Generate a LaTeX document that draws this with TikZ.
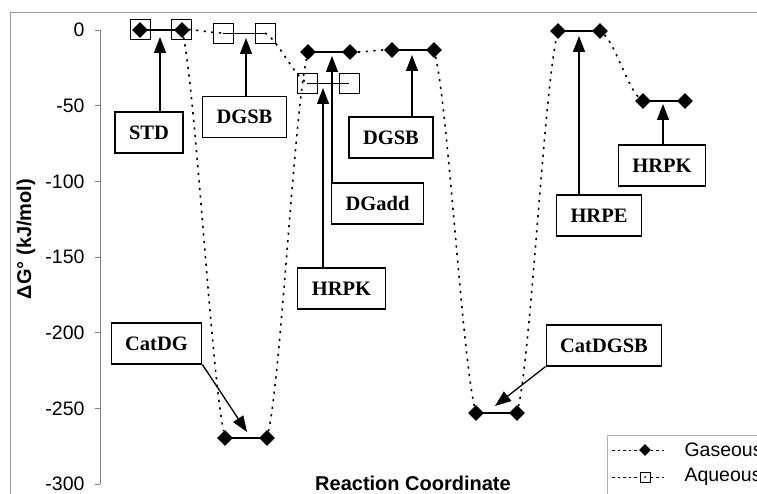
\documentclass[tikz,border=0pt]{standalone}
\usepackage{fontspec}
\setmainfont{Liberation Serif}
\setsansfont{Liberation Sans}
\usetikzlibrary{shapes.geometric,arrows.meta}

\tikzset{%
  % Specifications for style of nodes:
         lbl/.style = {rectangle, draw=black, line width=1.2pt, minimum height=41pt, inner xsep=14pt, fill=white, font=\fontsize{20.5}{24}\selectfont\rmfamily\bfseries},
         gas/.style = {diamond, fill=black, inner sep=0pt, minimum size=16pt},
          aq/.style = {rectangle, draw=black, line width=0.8pt, inner sep=0pt, minimum size=20pt},
        dots/.style = {line width=1.6pt, dash pattern=on 2.2pt off 5.4pt},
     callout/.style = {line width=1.3pt, -{Triangle[width=12pt,length=16pt]}},
       ticks/.style = {font=\fontsize{19.5}{22}\selectfont\sffamily, anchor=east},
}

\begin{document}
\begin{tikzpicture}[x=1pt, y=-1pt, every node/.style={font=\fontsize{19.5}{22}\selectfont\sffamily}]
    \useasboundingbox (0,0) rectangle (757,494);
    \clip (0,0) rectangle (757,494);

    % Frame and axis
    \draw[gray!80, line width=0.8pt] (10,12) rectangle (800,560);
    \draw[gray, line width=0.8pt] (100,30) -- (100,484);
    \foreach \v in {0,-50,...,-300}{
        \draw[gray, line width=0.8pt] (95,{30-1.5133*\v}) -- (100,{30-1.5133*\v});
        \node[ticks] at (88,{30-1.5133*\v}) {\v};
    }
    \node[rotate=90, font=\fontsize{20}{22}\selectfont\sffamily\bfseries] (ylab) at (26,239) {ΔG° (kJ/mol)};
    \node[font=\fontsize{20}{22}\selectfont\sffamily\bfseries] (xlab) at (413,483) {Reaction Coordinate};

    % Draw markers
    \node (a1) [aq] at (140,29) {};
    \node (a2) [aq] at (181,29) {};
    \node (a3) [aq] at (223,33) {};
    \node (a4) [aq] at (265,33) {};
    \node (a5) [aq] at (307,83) {};
    \node (a6) [aq] at (349,83) {};

    \node (g1)  [gas] at (140,30)  {};
    \node (g2)  [gas] at (182,30)  {};
    \node (g3)  [gas] at (225,438) {};
    \node (g4)  [gas] at (267,438) {};
    \node (g5)  [gas] at (308,52)  {};
    \node (g6)  [gas] at (350,52)  {};
    \node (g7)  [gas] at (392,50)  {};
    \node (g8)  [gas] at (434,50)  {};
    \node (g9)  [gas] at (476,413) {};
    \node (g10) [gas] at (517,413) {};
    \node (g11) [gas] at (558,31)  {};
    \node (g12) [gas] at (600,31)  {};
    \node (g13) [gas] at (643,101) {};
    \node (g14) [gas] at (685,101) {};

    % Draw levels
    \draw[line width=0.9pt] (a3.center) -- (a4.center);
    \draw[line width=0.9pt] (a5.center) -- (a6.center);
    \draw[line width=2.6pt] (g1.center) -- (g2.center);
    \foreach \i/\j in {g3/g4, g5/g6, g7/g8, g9/g10, g11/g12, g13/g14}
        \draw[line width=1.6pt] (\i.center) -- (\j.center);

    % Draw dotted links
    \draw[dots] (a2.center) .. controls +(14,0.5) and +(-14,-0.5) .. (a3.center);
    \draw[dots] (a4.center) .. controls +(14,8.3) and +(-14,-8.3) .. (a5.center);
    \draw[dots] (g2) .. controls +(14,68) and +(-14,-68) .. (g3);
    \draw[dots] (g4) .. controls +(14,-64) and +(-14,64) .. (g5);
    \draw[dots] (g6) .. controls +(14,0) and +(-14,0) .. (g7);
    \draw[dots] (g8) .. controls +(14,60) and +(-14,-60) .. (g9);
    \draw[dots] (g10) .. controls +(14,-64) and +(-14,64) .. (g11);
    \draw[dots] (g12) .. controls +(14,12) and +(-14,-12) .. (g13);

    % Draw labels
    \node (std)     [lbl] at (149,132.5) {STD};
    \node (dgsba)   [lbl] at (244.5,117) {DGSB};
    \node (dgsbb)   [lbl] at (391,137.5) {DGSB};
    \node (dgadd)   [lbl] at (377.5,203.5) {DGadd};
    \node (hrpka)   [lbl] at (341.5,288.5) {HRPK};
    \node (hrpe)    [lbl] at (599,215.5) {HRPE};
    \node (hrpkb)   [lbl] at (662,165.5) {HRPK};
    \node (catdg)   [lbl] at (156.5,343.5) {CatDG};
    \node (catdgsb) [lbl] at (604,345.5) {CatDGSB};

    % Draw arrows
    \coordinate (tstd)     at (160,37);
    \coordinate (tdgsba)   at (246,38);
    \coordinate (tdgsbb)   at (412,55);
    \coordinate (tdgadd)   at (332,56);
    \coordinate (thrpka)   at (323,88);
    \coordinate (thrpe)    at (579,36);
    \coordinate (thrpkb)   at (663,104);
    \coordinate (tcatdg)   at (247,432);
    \coordinate (tcatdgsb) at (495,406);

    \draw[callout] (std.north -| tstd)     -- (tstd);
    \draw[callout] (dgsba.north -| tdgsba) -- (tdgsba);
    \draw[callout] (dgsbb.north -| tdgsbb) -- (tdgsbb);
    \draw[callout] (dgadd.north -| tdgadd) -- (tdgadd);
    \draw[callout] (hrpka.north -| thrpka) -- (thrpka);
    \draw[callout] (hrpe.north -| thrpe)   -- (thrpe);
    \draw[callout] (hrpkb.north -| thrpkb) -- (thrpkb);
    \draw[callout] (catdg.south east)      -- (tcatdg);
    \draw[callout] (catdgsb.south west)    -- (tcatdgsb);

    % Legend
    \draw[gray!60, line width=0.8pt, fill=white] (607,435) rectangle (800,540);
    \draw[line width=1pt, dash pattern=on 2.5pt off 3pt] (612,450) -- (666,450);
    \draw[line width=1pt, dash pattern=on 2.5pt off 3pt] (612,477) -- (666,477);
    \node (lgas) [gas, minimum size=12pt] at (645,450) {};
    \node (laq)  [aq, minimum size=10pt, fill=white] at (645,477) {};
    \fill (laq.center) circle (1pt);
    \node (tgas) [anchor=west] at (681,450) {Gaseous};
    \node (taq)  [anchor=west] at (681,477) {Aqueous};
\end{tikzpicture}
\end{document}
